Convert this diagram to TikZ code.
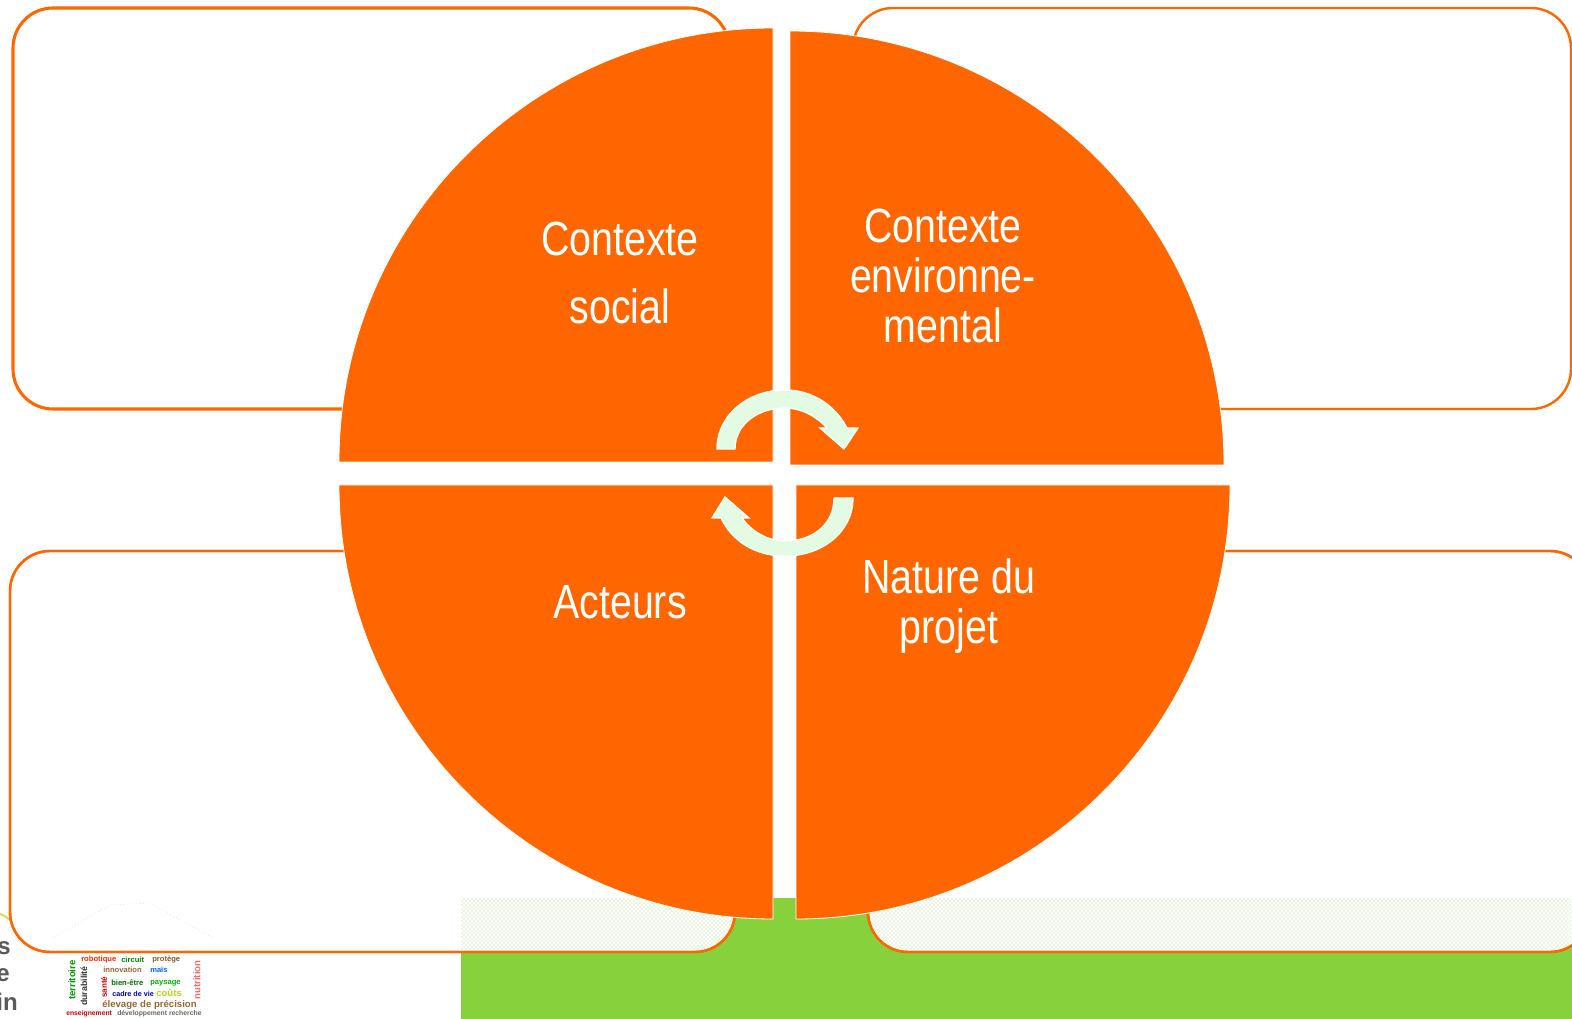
\documentclass[tikz,border=0pt]{standalone}
\usepackage{fontspec}
\usetikzlibrary{patterns}
\setmainfont[FakeStretch=0.82]{Liberation Sans}
\newfontfamily\plainsans{Liberation Sans}
\definecolor{orangeA}{HTML}{FF6600}
\definecolor{greenA}{HTML}{87D23C}
\definecolor{arrowA}{HTML}{E2FBE2}
\tikzset{
  framebox/.style={draw=orangeA,line width=1.9pt,rounded corners=30pt,fill=white},
  quarter/.style={fill=orangeA,draw=white,line width=.6pt},
  cyclearrow/.style={fill=arrowA,draw=white,line width=1pt,line join=miter},
  quarterlabel/.style={text=white,align=center,font=\fontsize{36}{37.5}\selectfont,inner sep=0pt},
  cloud/.style={font=\plainsans\bfseries\fontsize{6}{7}\selectfont,inner sep=0pt},
  frag/.style={font=\plainsans\bfseries\fontsize{18}{19}\selectfont,text=black!65,inner sep=0pt}
}
\begin{document}
\begin{tikzpicture}[x=0.75pt,y=-0.75pt]
\clip (0,0) rectangle (1572,1019);
\fill[white] (0,0) rectangle (1572,1019);
% tan curve and cut-off logo words
\draw[color=brown!50!yellow!70,line width=1.5pt] (0,914) .. controls (4,915) and (8,918) .. (12,922);
\node[frag,anchor=east] (fragS) at (11,948) {s};
\node[frag,anchor=east] (fragE) at (10,975) {e};
\node[frag,anchor=east] (fragIn) at (18,1002) {in};
% word cloud
\node[cloud,text=red!70!orange,anchor=west] (w1) at (81,960) {\scalebox{.95}{robotique}};
\node[cloud,text=green!50!black,anchor=west] (w2) at (121,960) {\scalebox{.95}{circuit}};
\node[cloud,text=brown!70!black,anchor=west] (w3) at (152,960) {\scalebox{.95}{protège}};
\node[cloud,text=brown!80!black,anchor=west] (w4) at (103,970) {\scalebox{.95}{innovation}};
\node[cloud,text=blue!60!cyan,anchor=west] (w5) at (150,970) {\scalebox{.95}{maïs}};
\node[cloud,text=green!45!black,anchor=west] (w6) at (111,983) {\scalebox{.95}{bien-être}};
\node[cloud,text=green!70!black,anchor=west] (w7) at (150,983) {\scalebox{.95}{paysage}};
\node[cloud,text=blue!70!black,anchor=west] (w8) at (112,994) {\scalebox{.9}{cadre de vie}};
\node[cloud,text=yellow!70!green,anchor=west] (w9) at (156,993) {\scalebox{1.2}{coûts}};
\node[cloud,text=brown!80!black,anchor=west] (w10) at (102,1005) {\scalebox{1.2}{élevage de précision}};
\node[cloud,text=red!80!black,anchor=west] (w11) at (66,1014) {\scalebox{.85}{enseignement}};
\node[cloud,text=black!60,anchor=west] (w12) at (117,1014) {\scalebox{.85}{développement recherche}};
\node[cloud,text=black!80,rotate=90] (w13) at (84,986) {\scalebox{1.1}{durabilité}};
\node[cloud,text=red!80!black,rotate=90] (w14) at (104,987) {\scalebox{1}{santé}};
\node[cloud,text=green!60!black,rotate=90] (w15) at (72,980) {\scalebox{1.2}{territoire}};
\node[cloud,text=red!60,rotate=90] (w16) at (197,980) {\scalebox{1.2}{nutrition}};
% green band
\fill[greenA] (461,898) rectangle (1572,1019);
% four frames
\path[framebox,line width=2.3pt] (13,8) rectangle (729,409);
\path[framebox,line width=1.8pt] (853,8) rectangle (1571,409);
\path[framebox,line width=1.8pt] (10,551) rectangle (735,952);
\path[framebox,line width=1.8pt] (868,551) rectangle (1590,952);
% dotted band inside lower frames
\begin{scope}
\clip[rounded corners=30pt] (10,551) rectangle (735,951);
\fill[pattern=crosshatch dots,pattern color=greenA!70] (461,898) rectangle (740,952);
\end{scope}
\begin{scope}
\clip[rounded corners=30pt] (868,551) rectangle (1590,951);
\fill[pattern=crosshatch dots,pattern color=greenA!70] (860,898) rectangle (1572,952);
\end{scope}
\draw[orangeA,line width=1.8pt,rounded corners=30pt] (10,551) rectangle (735,952);
\draw[orangeA,line width=1.8pt,rounded corners=30pt] (868,551) rectangle (1590,952);
% faint roof of the word cloud
\draw[black!12,dotted,line width=.5pt] (52,938) -- (110,905) -- (150,903) -- (213,938);
% quarters
\path[quarter] (773,462) -- (339,462) arc[start angle=180,end angle=270,radius=434] -- cycle;
\path[quarter] (790,465) -- (790,31) arc[start angle=270,end angle=360,radius=434] -- cycle;
\path[quarter] (773,485) -- (773,919) arc[start angle=90,end angle=180,radius=434] -- cycle;
\path[quarter] (796,485) -- (1230,485) arc[start angle=0,end angle=90,radius=434] -- cycle;
% green tab
\fill[greenA] (776,898) rectangle (794,919);
% cycle arrows
\path[cyclearrow] (717,449) .. controls (717,415) and (748,390) .. (785,390)
  .. controls (812,390) and (835,405) .. (847,428) -- (858,428) -- (844,449) -- (820,428) -- (827,428)
  .. controls (815,415) and (800,408) .. (785,408) .. controls (757,408) and (735,425) .. (735,449) -- cycle;
\path[cyclearrow] (853,498) .. controls (853,532) and (822,556) .. (785,556)
  .. controls (755,556) and (732,541) .. (721,518) -- (712,518) -- (725,497) -- (749,518) -- (742,518)
  .. controls (752,532) and (768,541) .. (785,541) .. controls (812,541) and (834,525) .. (834,498) -- cycle;
% labels
\node[quarterlabel,font=\fontsize{36}{51}\selectfont] (social) at (620,273) {Contexte\\social};
\node[quarterlabel] (env) at (943,276) {Contexte\\environne-\\mental};
\node[quarterlabel] (acteurs) at (620,602) {Acteurs};
\node[quarterlabel] (nature) at (949,606) {Nature du\\projet};
\end{tikzpicture}
\end{document}
